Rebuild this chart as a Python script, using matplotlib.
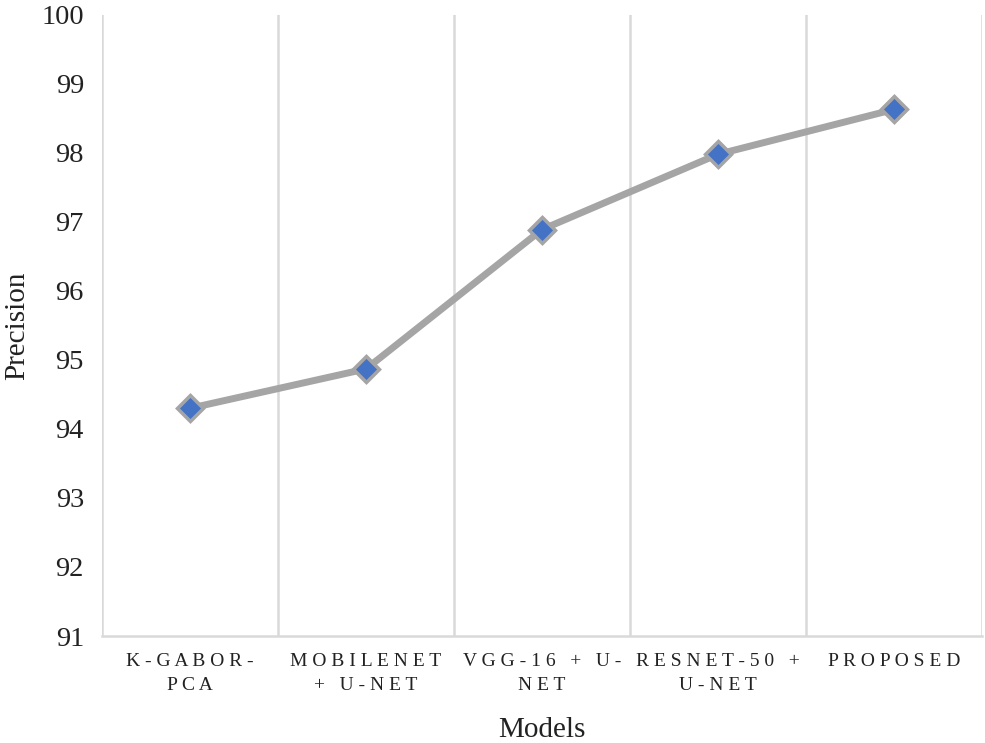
import matplotlib.pyplot as plt

plt.rcParams['font.family'] = ['Liberation Serif', 'DejaVu Serif']

# data
models = ['K-GABOR-\nPCA', 'MOBILENET\n+ U-NET', 'VGG-16 + U-\nNET', 'RESNET-50 +\nU-NET', 'PROPOSED']
precision = [94.30, 94.87, 96.89, 97.98, 98.63]


def spaced(s):
    # letter-spaced labels like the original
    return '\n'.join(' '.join(list(line)) for line in s.split('\n'))


fig = plt.figure(figsize=(9.85, 7.43), dpi=100)
ax = fig.add_axes([0.1036, 0.144, 0.8934, 0.836])

x = list(range(len(models)))
ax.plot(x, precision, color='#a5a5a5', linewidth=5, marker='D', markersize=13,
        markerfacecolor='#4472c4', markeredgecolor='#a5a5a5', markeredgewidth=2.5,
        zorder=3)

ax.set_xlim(-0.5, len(models) - 0.5)
ax.set_ylim(91, 100)
ax.set_yticks(range(91, 101))

# vertical grid at category boundaries
for b in [i - 0.5 for i in range(len(models) + 1)]:
    ax.axvline(b, color='#d9d9d9', linewidth=1.8, zorder=1)

for s in ['top', 'right', 'left']:
    ax.spines[s].set_visible(False)
ax.spines['bottom'].set_color('#d9d9d9')
ax.spines['bottom'].set_linewidth(1.8)

ax.set_xticks(x)
ax.set_xticklabels([spaced(m) for m in models], fontsize=14, color='#222222', linespacing=1.6)
ax.tick_params(axis='both', length=0)
ax.tick_params(axis='y', labelsize=20.5, pad=13, labelcolor='#222222')
ax.tick_params(axis='x', pad=12)

ax.set_xlabel('Models', fontsize=21, labelpad=16, color='#222222')
ax.set_ylabel('Precision', fontsize=21, labelpad=8, color='#222222')

fig.savefig('out.png', dpi=100)
